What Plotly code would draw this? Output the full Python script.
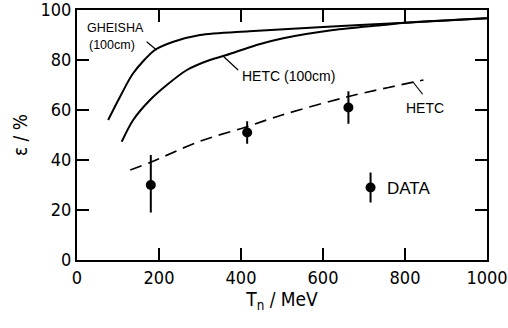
import plotly.graph_objects as go

# --- data -------------------------------------------------------------
gheisha_x = [76, 105, 137, 190, 235, 300, 420, 600, 800, 1000]
gheisha_y = [56, 65.3, 74.7, 84, 87.3, 90, 91.5, 93.2, 94.9, 96.7]

hetc100_x = [109, 137, 178, 219, 268, 324, 365, 438, 503, 625, 747, 800, 1000]
hetc100_y = [47.3, 56, 64, 70, 76, 80, 82, 86, 88.7, 92, 94, 94.9, 96.7]

hetc_x = [130, 178, 300, 414, 500, 660, 760, 845]
hetc_y = [36, 39, 47.5, 53.3, 58, 65.3, 69, 72]

data_x = [180, 415, 662]
data_y = [30, 51, 61]
data_err_plus = [12, 4.5, 6.5]
data_err_minus = [11, 4.5, 6.5]

key_x = [716]
key_y = [29]
key_err = [6]

x_ticks = [0, 200, 400, 600, 800, 1000]
y_ticks = [0, 20, 40, 60, 80, 100]

# label anchors (data units)
lbl_gheisha = (95, 92.8)
lbl_gheisha2 = (85, 86)
lbl_hetc100 = (517, 73.6)
lbl_hetc = (849, 60.8)
lbl_data = (751, 28.8)
ptr_gheisha = ([170, 194], [87.3, 84])
ptr_hetc100 = ([358, 393], [81.3, 76])
ptr_hetc = ([819, 843], [71.3, 66.3])

NUMFONT = "DejaVu Sans Condensed, Liberation Sans Narrow, Arial Narrow, sans-serif"
TXTFONT = "Liberation Sans, Arial, sans-serif"

fig = go.Figure()
fig.add_trace(go.Scatter(x=gheisha_x, y=gheisha_y, mode="lines",
                         line=dict(color="black", width=2, shape="spline", smoothing=0.8)))
fig.add_trace(go.Scatter(x=hetc100_x, y=hetc100_y, mode="lines",
                         line=dict(color="black", width=2, shape="spline", smoothing=0.8)))
fig.add_trace(go.Scatter(x=hetc_x, y=hetc_y, mode="lines",
                         line=dict(color="black", width=1.7, dash="12px,7px", shape="spline")))
fig.add_trace(go.Scatter(x=data_x, y=data_y, mode="markers",
                         marker=dict(color="black", size=10),
                         error_y=dict(type="data", array=data_err_plus,
                                      arrayminus=data_err_minus, color="black",
                                      thickness=2, width=0)))
fig.add_trace(go.Scatter(x=key_x, y=key_y, mode="markers",
                         marker=dict(color="black", size=10),
                         error_y=dict(type="data", array=key_err, color="black",
                                      thickness=2, width=0)))
for px, py in (ptr_gheisha, ptr_hetc100, ptr_hetc):
    fig.add_trace(go.Scatter(x=px, y=py, mode="lines",
                             line=dict(color="black", width=1.2)))

ann = [
    dict(x=lbl_gheisha[0], y=lbl_gheisha[1], text="GHEISHA", size=12.5, xanchor="center"),
    dict(x=lbl_gheisha2[0], y=lbl_gheisha2[1], text="(100cm)", size=12.5, xanchor="center"),
    dict(x=lbl_hetc100[0], y=lbl_hetc100[1], text="HETC (100cm)", size=14, xanchor="center"),
    dict(x=lbl_hetc[0], y=lbl_hetc[1], text="HETC", size=14, xanchor="center"),
    dict(x=lbl_data[0], y=lbl_data[1], text="DATA", size=17, xanchor="left"),
]
annotations = [dict(x=a["x"], y=a["y"], text=a["text"], showarrow=False,
                    xanchor=a["xanchor"], yanchor="middle",
                    font=dict(family=TXTFONT, size=a["size"], color="black"))
               for a in ann]

axis_common = dict(showline=True, linecolor="black", linewidth=2, mirror="ticks",
                   ticks="inside", ticklen=12, tickwidth=1.5, tickcolor="black",
                   showgrid=False, zeroline=False, automargin=False,
                   ticklabeloverflow="allow",
                   tickfont=dict(family=NUMFONT, size=18, color="black"))

fig.update_layout(
    width=508, height=328,
    margin=dict(l=77, r=21, t=10, b=68),
    paper_bgcolor="white", plot_bgcolor="white",
    showlegend=False,
    annotations=annotations,
    xaxis=dict(range=[0, 1000], tickvals=x_ticks, **axis_common,
               title=dict(text="T<sub>n</sub> / MeV", standoff=6,
                          font=dict(family=NUMFONT, size=19, color="black"))),
    yaxis=dict(range=[0, 100], tickvals=y_ticks, **axis_common,
               title=dict(text="ε / %", standoff=8,
                          font=dict(family=NUMFONT, size=19, color="black"))),
)

# remove the default page margin so the 508x328 figure fills the window exactly
fig.write_html("out.html",
               config={"displayModeBar": False, "staticPlot": True},
               post_script="document.body.style.margin='0';document.body.style.overflow='hidden';")
